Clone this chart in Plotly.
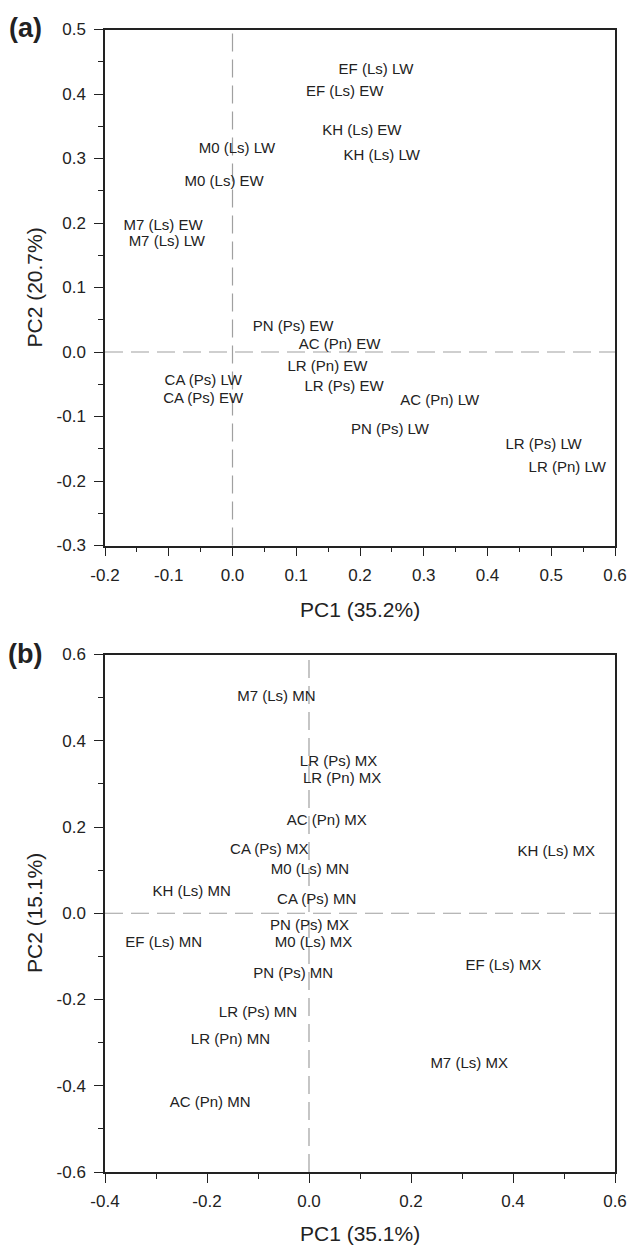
import plotly.graph_objects as go

# ---- Panel (a) data ----
labels_a = ["EF (Ls) LW", "EF (Ls) EW", "KH (Ls) EW", "KH (Ls) LW", "M0 (Ls) LW",
            "M0 (Ls) EW", "M7 (Ls) EW", "M7 (Ls) LW", "PN (Ps) EW", "AC (Pn) EW",
            "LR (Pn) EW", "LR (Ps) EW", "CA (Ps) LW", "CA (Ps) EW", "AC (Pn) LW",
            "PN (Ps) LW", "LR (Ps) LW", "LR (Pn) LW"]
pc1_a = [0.225, 0.176, 0.203, 0.234, 0.007, -0.013, -0.109, -0.103, 0.095, 0.168,
         0.149, 0.175, -0.046, -0.046, 0.325, 0.247, 0.488, 0.525]
pc2_a = [0.437, 0.402, 0.343, 0.304, 0.315, 0.263, 0.195, 0.170, 0.039, 0.011,
         -0.024, -0.055, -0.045, -0.074, -0.076, -0.121, -0.144, -0.181]

# ---- Panel (b) data ----
labels_b = ["M7 (Ls) MN", "LR (Ps) MX", "LR (Pn) MX", "AC (Pn) MX", "CA (Ps) MX",
            "KH (Ls) MX", "M0 (Ls) MN", "KH (Ls) MN", "CA (Ps) MN", "PN (Ps) MX",
            "M0 (Ls) MX", "EF (Ls) MN", "EF (Ls) MX", "PN (Ps) MN", "LR (Ps) MN",
            "LR (Pn) MN", "M7 (Ls) MX", "AC (Pn) MN"]
pc1_b = [-0.064, 0.058, 0.065, 0.035, -0.078, 0.485, 0.002, -0.230, 0.015, 0.001,
         0.009, -0.285, 0.381, -0.031, -0.100, -0.154, 0.314, -0.194]
pc2_b = [0.502, 0.349, 0.310, 0.214, 0.146, 0.142, 0.100, 0.049, 0.029, -0.031,
         -0.070, -0.070, -0.122, -0.142, -0.231, -0.294, -0.349, -0.441]

# ---- Axis ticks / titles ----
xtick_a = [-0.2, -0.1, 0.0, 0.1, 0.2, 0.3, 0.4, 0.5, 0.6]
xtext_a = ["-0.2", "-0.1", "0.0", "0.1", "0.2", "0.3", "0.4", "0.5", "0.6"]
ytick_a = [-0.3, -0.2, -0.1, 0.0, 0.1, 0.2, 0.3, 0.4, 0.5]
ytext_a = ["-0.3", "-0.2", "-0.1", "0.0", "0.1", "0.2", "0.3", "0.4", "0.5"]
xtick_b = [-0.4, -0.2, 0.0, 0.2, 0.4, 0.6]
xtext_b = ["-0.4", "-0.2", "0.0", "0.2", "0.4", "0.6"]
ytick_b = [-0.6, -0.4, -0.2, 0.0, 0.2, 0.4, 0.6]
ytext_b = ["-0.6", "-0.4", "-0.2", "0.0", "0.2", "0.4", "0.6"]
xtitle_a, ytitle_a = "PC1 (35.2%)", "PC2 (20.7%)"
xtitle_b, ytitle_b = "PC1 (35.1%)", "PC2 (15.1%)"

W, H = 630, 1247
FONT = "Liberation Sans, Arial, sans-serif"
TXT = "#222222"

xdom = [105 / W, 615 / W]
ydom_a = [1 - 545.5 / H, 1 - 29.5 / H]
ydom_b = [1 - 1172 / H, 1 - 654.5 / H]

fig = go.Figure()
fig.add_trace(go.Scatter(x=pc1_a, y=pc2_a, text=labels_a, mode="text",
                         textposition="middle center", cliponaxis=False,
                         textfont=dict(family=FONT, size=15, color=TXT),
                         xaxis="x", yaxis="y", showlegend=False, hoverinfo="skip"))
fig.add_trace(go.Scatter(x=pc1_b, y=pc2_b, text=labels_b, mode="text",
                         textposition="middle center", cliponaxis=False,
                         textfont=dict(family=FONT, size=15, color=TXT),
                         xaxis="x2", yaxis="y2", showlegend=False, hoverinfo="skip"))

def axis(dom, rng, tv, tt, minor_dt, anchor, standoff):
    return dict(domain=dom, range=rng, tickvals=tv, ticktext=tt, anchor=anchor,
                automargin=False, showgrid=False, zeroline=False, showline=True,
                mirror=True, linecolor="#222222", linewidth=1.5, ticks="outside",
                ticklen=9, tickwidth=1.3, tickcolor="#222222",
                ticklabelstandoff=standoff,
                tickfont=dict(family=FONT, size=17, color=TXT),
                minor=dict(ticks="outside", ticklen=5, tickwidth=1.3,
                           tickcolor="#222222", dtick=minor_dt, tick0=0, showgrid=False))

fig.update_layout(
    template="none",
    width=W, height=H, margin=dict(l=0, r=0, t=0, b=0, autoexpand=False),
    paper_bgcolor="white", plot_bgcolor="white",
    xaxis=axis(xdom, [-0.2, 0.6], xtick_a, xtext_a, 0.05, "y", 4),
    yaxis=axis(ydom_a, [-0.3, 0.5], ytick_a, ytext_a, 0.05, "x", 5),
    xaxis2=axis(xdom, [-0.4, 0.6], xtick_b, xtext_b, 0.1, "y2", 4),
    yaxis2=axis(ydom_b, [-0.6, 0.6], ytick_b, ytext_b, 0.1, "x2", 5),
)

dash = dict(color="#a0a0a0", width=1.2, dash="18px,8px")
for xr, yr in [("x", "y"), ("x2", "y2")]:
    fig.add_shape(type="line", xref=xr, yref=yr + " domain", x0=0, x1=0, y0=0, y1=1,
                  line=dash, layer="below")
    fig.add_shape(type="line", xref=xr + " domain", yref=yr, x0=0, x1=1, y0=0, y1=0,
                  line=dash, layer="below")

def ann(text, x, y, size, angle=0, bold=False):
    fig.add_annotation(text=("<b>%s</b>" % text) if bold else text, x=x, y=y,
                       xref="paper", yref="paper", showarrow=False, textangle=angle,
                       xanchor="center", yanchor="middle",
                       font=dict(family=FONT, size=size, color=TXT))

xc = (105 + 615) / 2 / W
ann(xtitle_a, xc, 1 - 609 / H, 21)
ann(ytitle_a, 34 / W, 1 - 287.5 / H, 21, angle=-90)
ann(xtitle_b, xc, 1 - 1233 / H, 21)
ann(ytitle_b, 34 / W, 1 - 913 / H, 21, angle=-90)
ann("(a)", 25 / W, 1 - 28 / H, 27, bold=True)
ann("(b)", 25 / W, 1 - 654 / H, 27, bold=True)

fig.write_html("out.html", config={"displayModeBar": False},
               post_script="document.body.style.margin='0';")
